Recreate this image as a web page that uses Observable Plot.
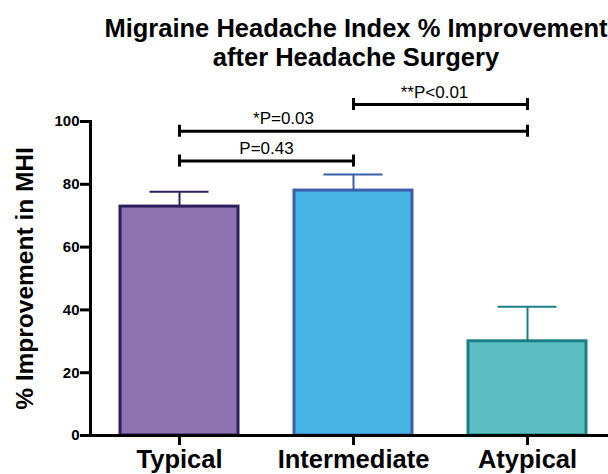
<!DOCTYPE html>
<html>
<head>
<meta charset="utf-8">
<script src="https://cdn.jsdelivr.net/npm/d3@7"></script>
<script src="https://cdn.jsdelivr.net/npm/@observablehq/plot@0.6"></script>
<style>
  html, body { margin: 0; padding: 0; background: #fff; overflow: hidden; }
  #title {
    width: 608px; height: 70px; box-sizing: border-box;
    padding: 14px 0 0 0; text-align: center; white-space: nowrap;
    position: relative; left: 52px;
    font-family: "Liberation Sans", Arial, sans-serif; font-weight: bold;
    font-size: 25.5px; line-height: 29px; color: #000;
  }
  svg { display: block; }
</style>
</head>
<body>
<div id="title">Migraine Headache Index % Improvement<br>after Headache Surgery</div>
<div id="chart"></div>
<script>
// ---- data ----
const categories = ["Typical", "Intermediate", "Atypical"];
const means = [72.9, 78.0, 30.0];
const errors = [4.7, 5.1, 11.0];
const yTicks = [0, 20, 40, 60, 80, 100];
const bracketFrom = ["Typical", "Typical", "Intermediate"];
const bracketTo = ["Intermediate", "Atypical", "Atypical"];
const bracketHeight = [87.4, 96.9, 105.4];
const bracketLabels = ["P=0.43", "*P=0.03", "**P<0.01"];

// ---- styles ----
const fills = ["#8e72b1", "#47b4e6", "#5dbfc3"];
const strokes = ["#2d1f5e", "#3b5fad", "#1a7f84"];
const labelDx = [87, 104, 81];

const bars = categories.map((c, i) => ({cat: c, mean: means[i], upper: means[i] + errors[i]}));
const brackets = bracketFrom.map((f, i) => ({from: f, to: bracketTo[i], h: bracketHeight[i], label: bracketLabels[i]}));
const ends = brackets.flatMap(b => [{x: b.from, h: b.h}, {x: b.to, h: b.h}]);

const font = '"Liberation Sans", Arial, sans-serif';
const strokeOf = d => strokes[categories.indexOf(d.cat)];

const chart = Plot.plot({
  width: 608,
  height: 404,
  marginLeft: 90,
  marginRight: 0,
  marginTop: 51,
  marginBottom: 39,
  style: {fontFamily: font, color: "#000", background: "#fff"},
  x: {type: "band", domain: categories, range: [90.7, 614.2], paddingInner: 0.324, paddingOuter: 0.162, axis: null},
  y: {domain: [0, 100], axis: null},
  color: {domain: categories, range: fills},
  marks: [
    Plot.barY(bars, {x: "cat", y: "mean", fill: "cat", stroke: strokeOf, strokeWidth: 3}),
    Plot.ruleX(bars, {x: "cat", y1: "mean", y2: "upper", stroke: strokeOf, strokeWidth: 2}),
    Plot.tickY(bars, {x: "cat", y: "upper", stroke: strokeOf, strokeWidth: 2, insetLeft: 29.5, insetRight: 29.5}),
    Plot.ruleY([0], {stroke: "#000", strokeWidth: 3}),
    Plot.frame({anchor: "left", stroke: "#000", strokeWidth: 3}),
    Plot.axisY({ticks: yTicks, tickSize: 10, tickPadding: 1, strokeWidth: 3, fontSize: 15, fontWeight: "bold", label: null}),
    Plot.axisX({tickSize: 10, tickPadding: 4, strokeWidth: 3, fontSize: 25.5, fontWeight: "bold", label: null}),
    Plot.ruleY(brackets, {x1: "from", x2: "to", y: "h", insetLeft: 59, insetRight: 59, stroke: "#000", strokeWidth: 3}),
    Plot.ruleX(ends, {x: "x", y1: "h", y2: "h", insetTop: -6, insetBottom: -6, stroke: "#000", strokeWidth: 3}),
    ...brackets.map((b, i) => Plot.text([b], {x: "from", y: "h", text: "label", dx: labelDx[i], dy: -7, lineAnchor: "bottom", fontSize: 17, fill: "#000"})),
    Plot.text(["% Improvement in MHI"], {frameAnchor: "left", dx: -58, rotate: -90, textAnchor: "middle", lineAnchor: "bottom", fontSize: 24.5, fontWeight: "bold", fill: "#000"})
  ]
});
document.getElementById("chart").appendChild(chart);
</script>
</body>
</html>
